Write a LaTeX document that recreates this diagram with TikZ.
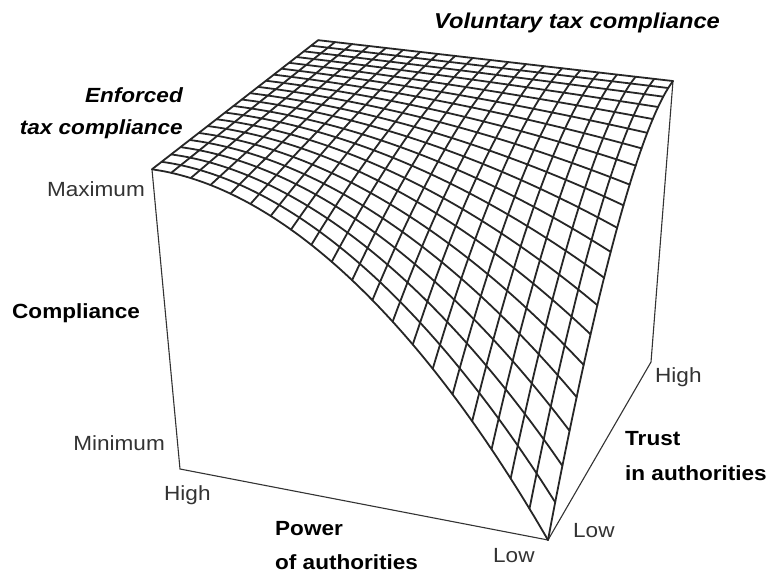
\documentclass[tikz,border=0pt]{standalone}
\usepackage{fontspec}
\setmainfont{Liberation Sans}[FakeStretch=1.1]
\begin{document}
\begin{tikzpicture}[x=1pt,y=-1pt,
  declare function={
    zz(\a,\b)=1-(1-\a)*(1-\a)*(1-\b)*(1-\b);
    fx(\a,\b,\c)=(548-356.43*\a+212.9*\b-46*\c)/(1+0.0643*\a+0.1688*\b-0.1065*\c);
    fy(\a,\b,\c)=(540-40.84*\a-116.9*\b-337*\c)/(1+0.0643*\a+0.1688*\b-0.1065*\c);
  },
  gridline/.style={line width=1.8pt, black!85, line join=round, line cap=round},
  axisline/.style={line width=1.1pt, black!80},
  lab/.style={font=\fontsize{20.5}{24}\selectfont, inner sep=0pt, text=black!80},
  blab/.style={font=\fontsize{20.5}{24}\selectfont\bfseries, inner sep=0pt, text=black},
  bilab/.style={font=\fontsize{20.5}{24}\selectfont\bfseries\itshape, inner sep=0pt, text=black}
]
\useasboundingbox (0,0) rectangle (772,572);
\fill[white] (0,0) rectangle (772,572);
% corners
\coordinate (C) at ({fx(0,0,0)},{fy(0,0,0)});
\coordinate (B) at ({fx(1,0,0)},{fy(1,0,0)});
\coordinate (D) at ({fx(0,1,0)},{fy(0,1,0)});
\coordinate (A) at ({fx(1,0,1)},{fy(1,0,1)});
\coordinate (E) at ({fx(0,1,1)},{fy(0,1,1)});
\draw[axisline] (A) -- (B) -- (C) -- (D) -- (E);
% surface mesh
\foreach \i in {0,...,20}{
  \pgfmathsetmacro\aa{\i/20}
  \draw[gridline] plot[variable=\t, domain=0:1, samples=31, smooth]
     ({fx(\aa,\t,zz(\aa,\t))},{fy(\aa,\t,zz(\aa,\t))});
  \draw[gridline] plot[variable=\t, domain=0:1, samples=31, smooth]
     ({fx(\t,\aa,zz(\t,\aa))},{fy(\t,\aa,zz(\t,\aa))});
}
% labels
\node[bilab, font=\fontsize{21.5}{24}\selectfont\bfseries\itshape, anchor=base] (vol) at (577,29) {Voluntary tax compliance};
\node[bilab, anchor=base east] (enf1) at (183,103) {Enforced};
\node[bilab, anchor=base east] (enf2) at (183,135) {tax compliance};
\node[lab, anchor=base east] (max) at (145,197) {Maximum};
\node[blab, anchor=base west] (comp) at (12,319) {Compliance};
\node[lab, anchor=base east] (min) at (165,450) {Minimum};
\node[lab, anchor=base west] (phigh) at (164,500) {High};
\node[blab, anchor=base west] (pow1) at (275,535) {Power};
\node[blab, anchor=base west] (pow2) at (275,569) {of authorities};
\node[lab, anchor=base west] (plow) at (493,562) {Low};
\node[lab, anchor=base west] (tlow) at (573,537) {Low};
\node[blab, anchor=base west] (tr1) at (625,445) {Trust};
\node[blab, anchor=base west] (tr2) at (625,480) {in authorities};
\node[lab, anchor=base west] (thigh) at (655,382) {High};
\end{tikzpicture}
\end{document}
